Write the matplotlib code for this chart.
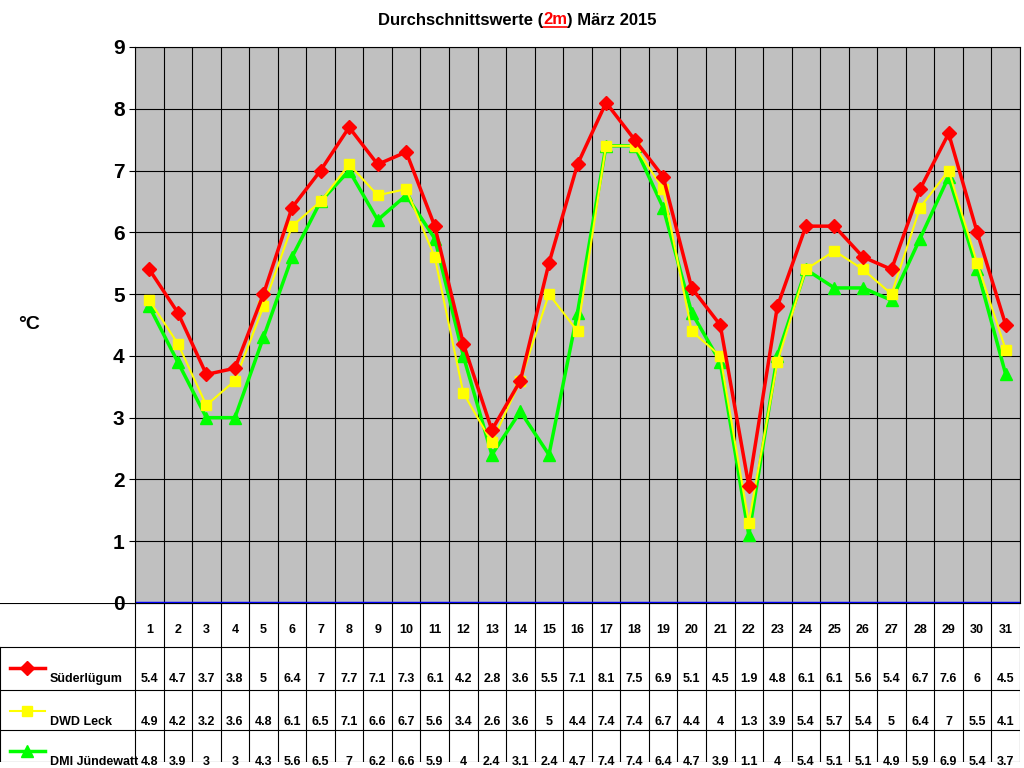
import matplotlib
matplotlib.use("Agg")
import matplotlib.pyplot as plt
import numpy as np

plt.rcParams['font.family'] = ['Liberation Sans', 'DejaVu Sans']
plt.rcParams['font.weight'] = 'bold'

days = list(range(1, 32))
sued = [5.4,4.7,3.7,3.8,5,6.4,7,7.7,7.1,7.3,6.1,4.2,2.8,3.6,5.5,7.1,8.1,7.5,6.9,5.1,4.5,1.9,4.8,6.1,6.1,5.6,5.4,6.7,7.6,6,4.5]
dwd = [4.9,4.2,3.2,3.6,4.8,6.1,6.5,7.1,6.6,6.7,5.6,3.4,2.6,3.6,5,4.4,7.4,7.4,6.7,4.4,4,1.3,3.9,5.4,5.7,5.4,5,6.4,7,5.5,4.1]
dmi = [4.8,3.9,3,3,4.3,5.6,6.5,7,6.2,6.6,5.9,4,2.4,3.1,2.4,4.7,7.4,7.4,6.4,4.7,3.9,1.1,4,5.4,5.1,5.1,4.9,5.9,6.9,5.4,3.7]
names = ["Süderlügum", "DWD Leck", "DMI Jündewatt"]
series = [sued, dwd, dmi]
colors = ["#FF0000", "#FFFF00", "#00FF00"]
markers = ["D", "s", "^"]
msizes = [7, 7, 9]

fig = plt.figure(figsize=(10.24, 7.68), dpi=100)
W, H = 1024, 768
L, R, T, B = 135, 1020, 47, 603
ax = fig.add_axes([L/W, 1-B/H, (R-L)/W, (B-T)/H])
ax.set_facecolor("#C0C0C0")
ax.set_xlim(0.5, 31.5)
ax.set_ylim(0, 9)
for x in np.arange(0.5, 32, 1):
    ax.axvline(x, color="black", lw=0.8, zorder=1)
for y in range(1, 10):
    ax.axhline(y, color="black", lw=0.8, zorder=1)
ax.axhline(0, color="#0000FF", lw=2.5, zorder=2)
# draw order: green, yellow, red on top
for i in [2, 1, 0]:
    ax.plot(days, series[i], color=colors[i], lw=2.5 if i != 1 else 1.5, marker=markers[i],
            ms=msizes[i], zorder=3+(2-i))
ax.set_xticks([])
ax.set_yticks(range(10))
ax.tick_params(axis='y', labelsize=15, length=4)
for s in ax.spines.values():
    s.set_color("black")

# table
tb = fig.add_axes([0, 1-762/H, R/W, (762-B)/H])
tb.set_xlim(0, R)
tb.set_ylim(762-B, 0)
tb.axis('off')
rows = [0, 44, 87, 127, 159]
for y in rows:
    tb.plot([0, R-L+L], [y, y], color="black", lw=0.8)
tb.plot([0, 0], [rows[1], rows[-1]], color="black", lw=0.8)
colw = (R-L)/31
for k in range(32):
    x = L + k*colw
    tb.plot([x, x], [0, rows[-1]], color="black", lw=0.8)
for k, d in enumerate(days):
    xc = L + (k+0.5)*colw
    tb.text(xc, 27, str(d), ha='center', va='center', fontsize=9)
    for r, s in enumerate(series):
        v = s[k]
        txt = str(int(v)) if float(v).is_integer() else str(v)
        tb.text(xc, rows[r+1]+32, txt, ha='center', va='center', fontsize=9)
for r in range(3):
    ym = rows[r+1] + 21
    tb.plot([10, 45], [ym, ym], color=colors[r], lw=2.5 if r != 1 else 1.5)
    tb.plot([27], [ym], color=colors[r], marker=markers[r], ms=msizes[r])
    tb.text(50, rows[r+1]+32, names[r], ha='left', va='center', fontsize=9)

fig.text(18/W, 1-325/H, "°C", fontsize=14, ha='left', va='center')

# title
fig.canvas.draw()
rend = fig.canvas.get_renderer()
ty = 1-20/H
parts = [("Durchschnittswerte (", "black"), ("2m", "red"), (") März 2015", "black")]
texts = [fig.text(0, ty, p, color=c, fontsize=12, va='center') for p, c in parts]
widths = [t.get_window_extent(rend).width for t in texts]
x0 = (W*0.5 + 0) - sum(widths)/2 + 5
for t, w in zip(texts, widths):
    t.set_x(x0/W)
    x0 += w
ext = texts[1].get_window_extent(rend)
fig.add_artist(plt.Line2D([ext.x0/W, ext.x1/W], [(ext.y0+1)/H]*2, color='red', lw=1.2))

fig.savefig("out.png", dpi=100)
